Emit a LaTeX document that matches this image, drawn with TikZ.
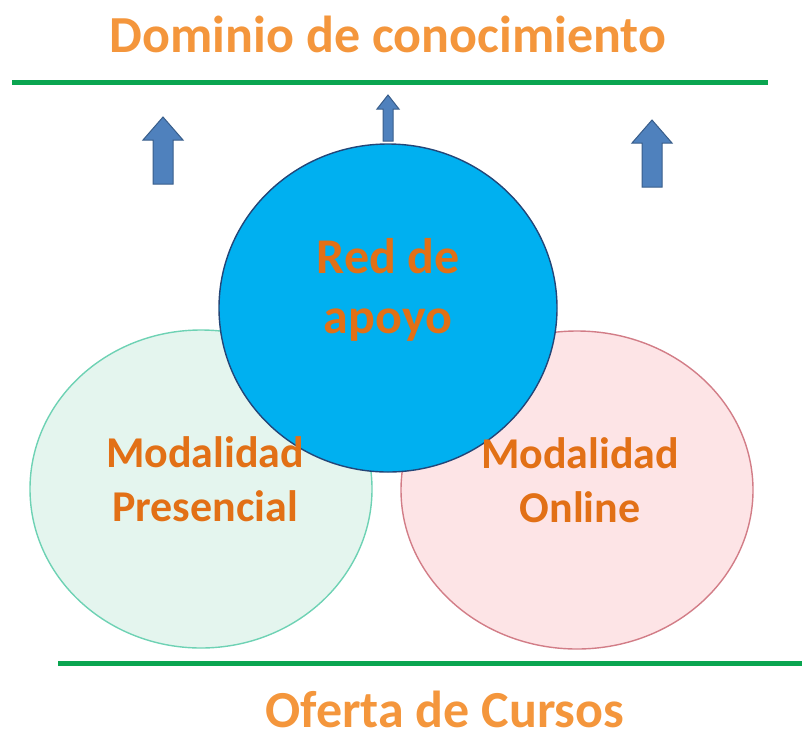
\documentclass[tikz,border=0pt]{standalone}
\usepackage{fontspec}
\setmainfont{Carlito}
\usetikzlibrary{shapes.geometric}

\definecolor{titleorange}{RGB}{244,150,60}
\definecolor{lblorange}{RGB}{226,112,22}
\definecolor{redfill}{RGB}{0,176,240}
\definecolor{reddraw}{RGB}{35,70,120}
\definecolor{presfill}{RGB}{228,245,238}
\definecolor{presdraw}{RGB}{110,210,180}
\definecolor{onlfill}{RGB}{253,228,230}
\definecolor{onldraw}{RGB}{210,125,135}
\definecolor{arrfill}{RGB}{79,129,189}
\definecolor{arrdraw}{RGB}{56,93,138}
\definecolor{bargreen}{RGB}{10,165,80}

\tikzset{
  circ/.style={ellipse, inner sep=0pt, line width=1.4pt},
  lbl/.style={align=center, text=lblorange, font=\bfseries\fontsize{44}{54}\selectfont},
  ttl/.style={inner sep=0pt, text=titleorange, font=\bfseries\fontsize{52}{60}\selectfont},
  bar/.style={bargreen, line width=5pt},
}

\begin{document}
\begin{tikzpicture}[x=1pt, y=-1pt]
    \useasboundingbox (0,0) rectangle (802,742);
    \node[ttl] (dom) at (388,34) {Dominio de conocimiento};
    \node[ttl] (ofe) at (445,709) {Oferta de Cursos};
    \coordinate (t1) at (12,82); \coordinate (t2) at (768,82);
    \coordinate (b1) at (58,663); \coordinate (b2) at (802,663);
    \draw[bar] (t1) -- (t2);
    \draw[bar] (b1) -- (b2);
    % flechas
    \foreach \x/\t/\b/\s/\h/\l in {163/117/184/10/20/23, 388/95/141/5/11/14, 652/120/187/10/20/23}
        \draw[arrdraw, fill=arrfill, line width=1pt] (\x-\s,\b) -- (\x+\s,\b) -- (\x+\s,\t+\l) -- (\x+\h,\t+\l) -- (\x,\t) -- (\x-\h,\t+\l) -- (\x-\s,\t+\l) -- cycle;
    % circulos
    \node[circ, draw=presdraw, fill=presfill, minimum width=342pt, minimum height=318pt] (pres) at (201,489) {};
    \node[circ, draw=onldraw, fill=onlfill, minimum width=352pt, minimum height=318pt] (onl) at (577,490) {};
    \node[circ, draw=reddraw, fill=redfill, minimum width=338pt, minimum height=328pt] (red) at (388,308) {};
    \node[lbl, font=\bfseries\fontsize{50}{60}\selectfont] (redtxt) at ([yshift=18pt]red.center) {Red de\\apoyo};
    \node[lbl] (prestxt) at ([xshift=4pt,yshift=10pt]pres.center) {Modalidad\\Presencial};
    \node[lbl] (onltxt) at ([xshift=3pt,yshift=10pt]onl.center) {Modalidad\\Online};
\end{tikzpicture}
\end{document}
